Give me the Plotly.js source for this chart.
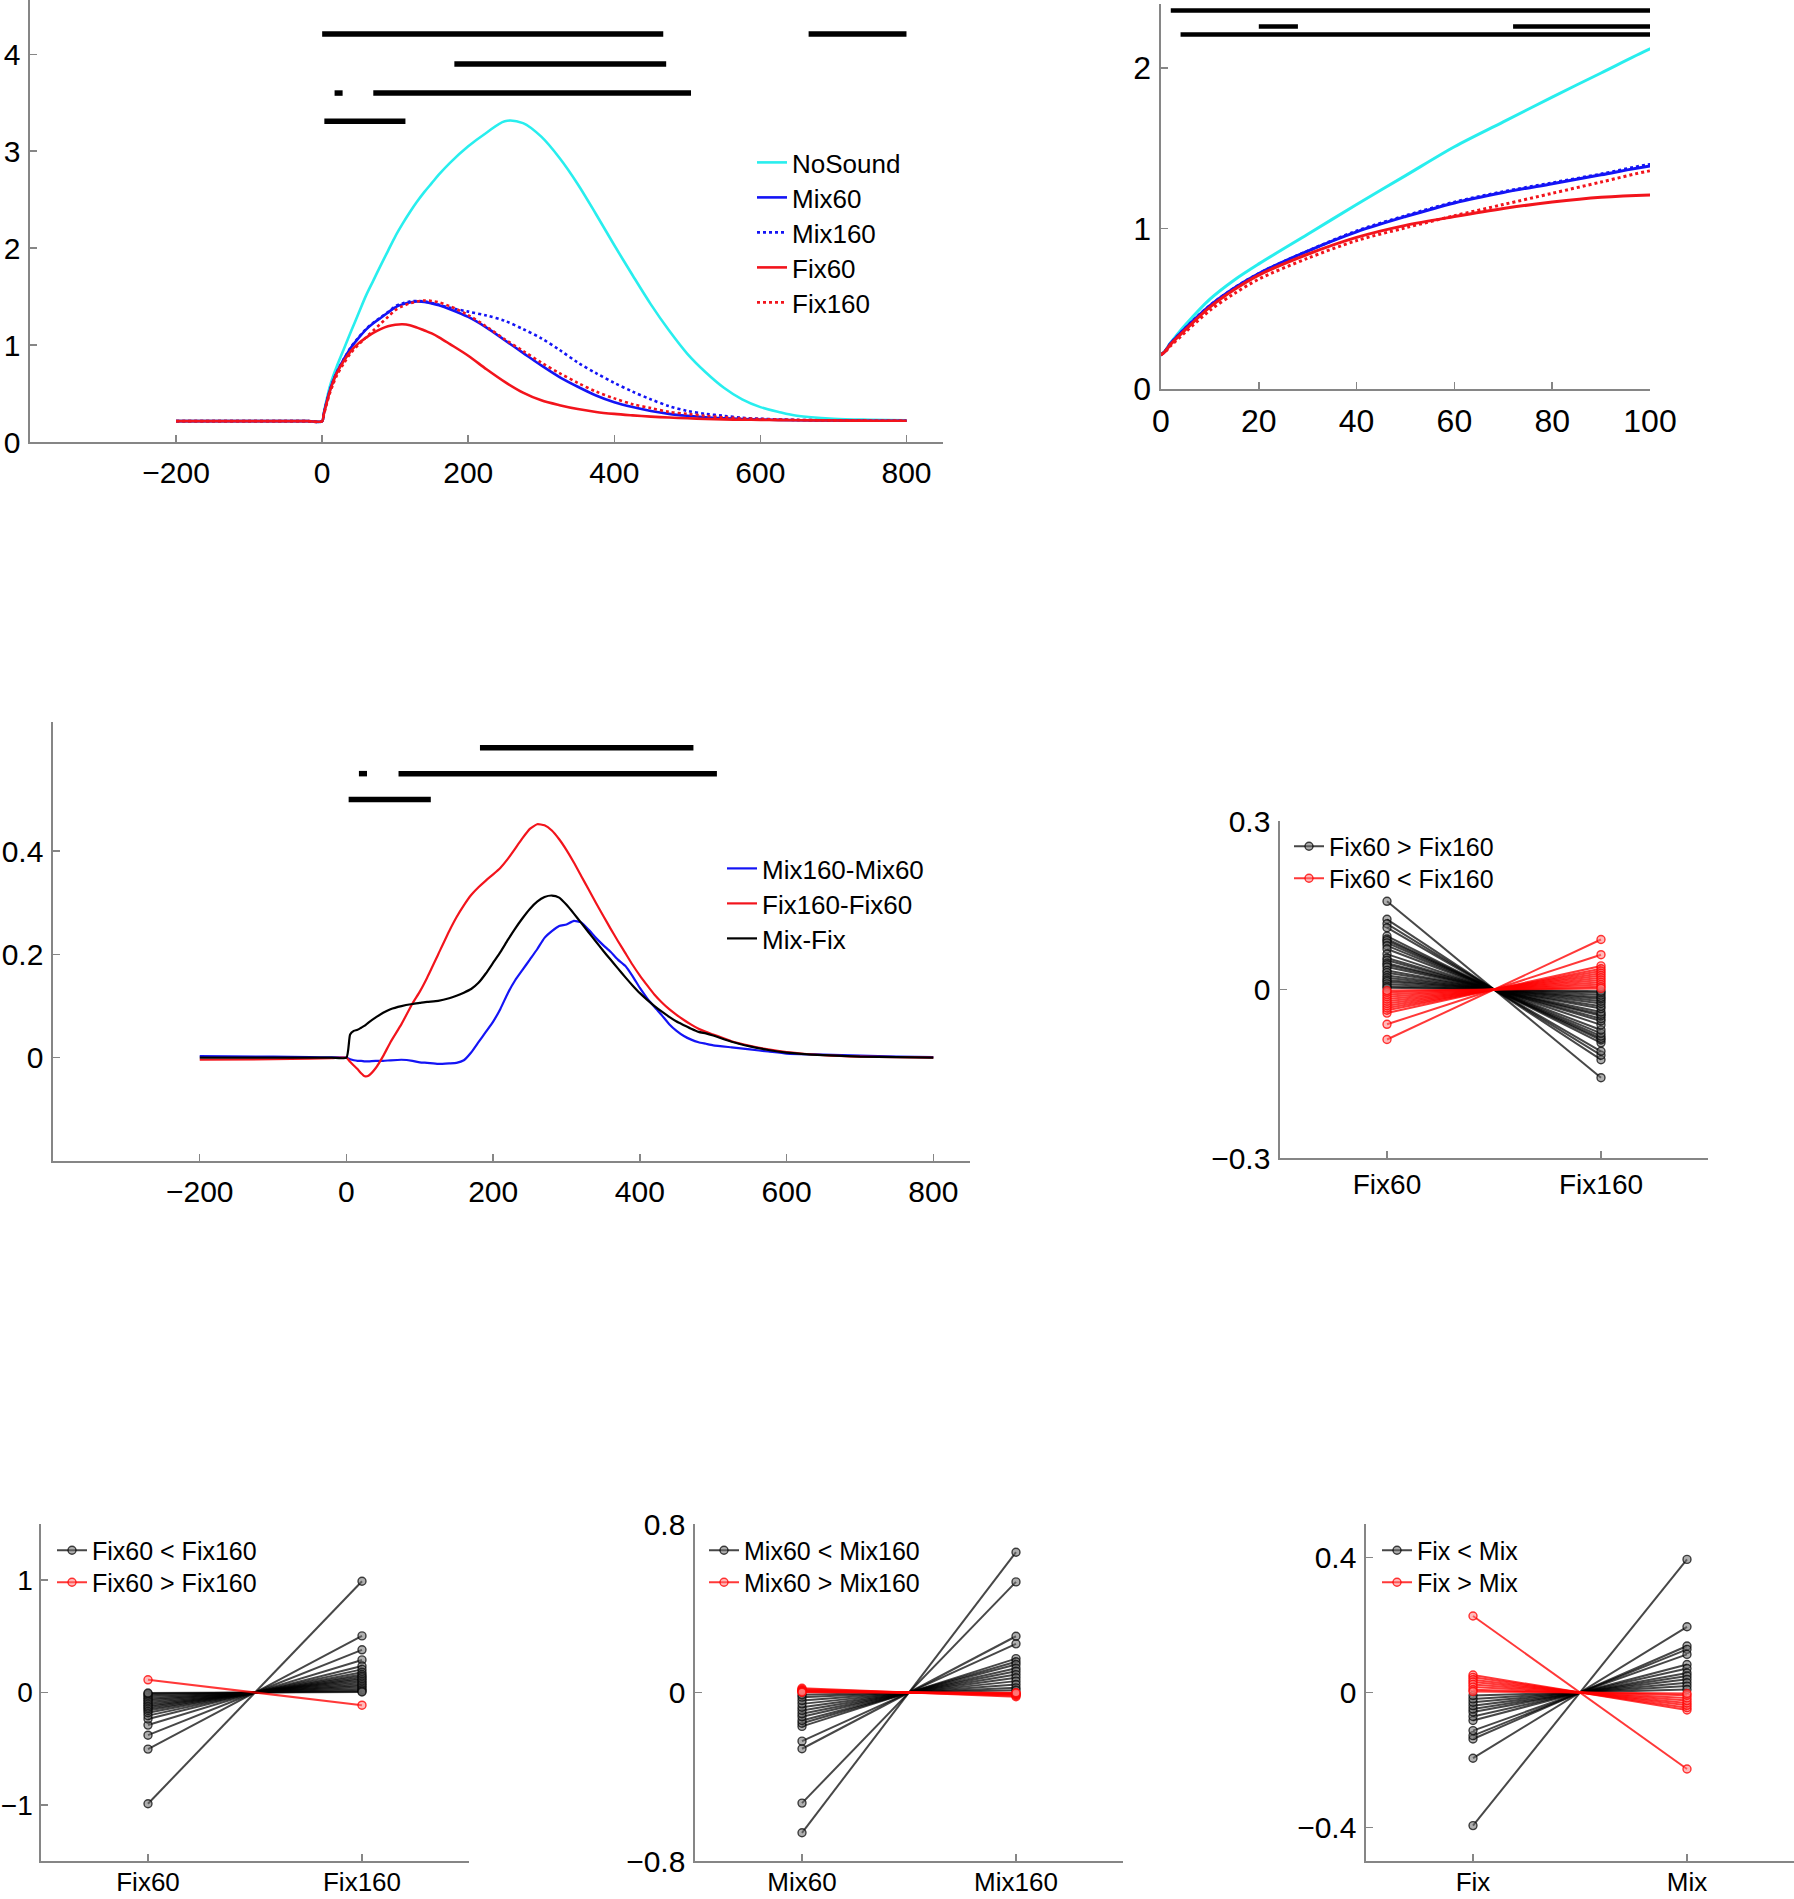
<!DOCTYPE html>
<html><head><meta charset="utf-8">
<script src="https://cdn.plot.ly/plotly-3.0.1.min.js"></script>
<style>html,body{margin:0;padding:0;background:#fff}#chart{width:1794px;height:1899px}</style>
</head><body><div id="chart"></div>
<script>
// ---------- Panel A / B : response curves ----------
const timeA = [-200, -150, -100, -50, -20, 0, 2, 5, 10, 15, 20, 30, 40, 50, 60, 70, 80, 90, 100, 110, 120, 130, 140, 150, 160, 175, 200, 225, 250, 275, 300, 325, 350, 375, 400, 425, 450, 475, 500, 525, 550, 575, 600, 625, 650, 700, 750, 800];
const noSound = [0.215, 0.215, 0.215, 0.215, 0.215, 0.215, 0.29, 0.40, 0.56, 0.68, 0.78, 0.965, 1.15, 1.33,
  1.51, 1.665, 1.82, 1.97, 2.12, 2.25, 2.37, 2.48, 2.58, 2.67,
  2.76, 2.88, 3.05, 3.19, 3.31, 3.29, 3.15, 2.93, 2.66, 2.35,
  2.03, 1.72, 1.42, 1.15, 0.91, 0.72, 0.56, 0.44, 0.36, 0.31,
  0.27, 0.24, 0.23, 0.225];
const mix60 = [0.215, 0.215, 0.215, 0.215, 0.215, 0.215, 0.285, 0.38, 0.52, 0.63, 0.72, 0.86, 0.98, 1.075,
  1.16, 1.225, 1.28, 1.335, 1.39, 1.42, 1.44, 1.45, 1.445, 1.43,
  1.41, 1.37, 1.29, 1.18, 1.05, 0.92, 0.79, 0.67, 0.57, 0.48,
  0.41, 0.36, 0.32, 0.29, 0.27, 0.255, 0.245, 0.237, 0.232, 0.228,
  0.225, 0.222, 0.22, 0.22];
const mix160 = [0.215, 0.215, 0.215, 0.215, 0.215, 0.215, 0.285, 0.38, 0.52, 0.63, 0.72, 0.86, 0.985, 1.08,
  1.165, 1.23, 1.285, 1.34, 1.40, 1.43, 1.45, 1.455, 1.45, 1.435,
  1.415, 1.385, 1.345, 1.305, 1.25, 1.165, 1.07, 0.95, 0.82, 0.71,
  0.61, 0.52, 0.44, 0.37, 0.32, 0.29, 0.27, 0.25, 0.24, 0.232,
  0.228, 0.222, 0.22, 0.22];
const fix60 = [0.215, 0.215, 0.215, 0.215, 0.215, 0.215, 0.28, 0.37, 0.51, 0.62, 0.71, 0.84, 0.945, 1.02,
  1.075, 1.125, 1.165, 1.195, 1.21, 1.215, 1.205, 1.18, 1.15, 1.12,
  1.08, 1.01, 0.89, 0.75, 0.62, 0.51, 0.43, 0.38, 0.34, 0.31,
  0.29, 0.275, 0.262, 0.252, 0.245, 0.238, 0.233, 0.23, 0.228, 0.226,
  0.224, 0.222, 0.22, 0.22];
const fix160 = [0.215, 0.215, 0.215, 0.215, 0.215, 0.215, 0.27, 0.355, 0.49, 0.595, 0.685, 0.815, 0.925, 1.005,
  1.08, 1.15, 1.22, 1.29, 1.36, 1.40, 1.43, 1.45, 1.46, 1.455,
  1.44, 1.40, 1.31, 1.19, 1.06, 0.94, 0.82, 0.71, 0.61, 0.52,
  0.45, 0.39, 0.35, 0.31, 0.29, 0.27, 0.255, 0.245, 0.237, 0.232,
  0.228, 0.223, 0.22, 0.22];
const namesA = ['NoSound', 'Mix60', 'Mix160', 'Fix60', 'Fix160'];

// significance bars
const sigA_start = [0, 666, 181, 17, 70, 3];
const sigA_end   = [467, 800, 471, 28, 505, 114];
const sigA_level = [4.21, 4.21, 3.90, 3.60, 3.60, 3.31];
const sigB_start = [2, 20, 72, 4];
const sigB_end   = [100, 28, 100, 100];
const sigB_level = [2.36, 2.26, 2.26, 2.21];
const sigC_start = [182, 17, 71, 3];
const sigC_end   = [473, 28, 505, 115];
const sigC_level = [0.60, 0.55, 0.55, 0.50];

// ---------- Panel C : difference curves ----------
const timeC = [-200, -100, -50, -20, 0, 5, 10, 15, 20, 25, 30, 40, 50, 60, 75, 90, 100, 110, 125, 140, 150, 160, 170, 180, 190, 200, 210, 220, 230, 240, 250, 260, 270, 280, 290, 300, 310, 320, 330, 340, 350, 360, 370, 380, 390, 400, 410, 420, 430, 440, 450, 460, 470, 480, 490, 500, 525, 550, 575, 600, 650, 700, 750, 800];
const mix160MinusMix60 = [0.003, 0.002, 0.001, 0.0005, 0.000, -0.003, -0.005, -0.006, -0.006, -0.007, -0.007, -0.006,
  -0.006, -0.005, -0.004, -0.006, -0.009, -0.010, -0.012, -0.011, -0.010, -0.005,
  0.010, 0.030, 0.050, 0.070, 0.095, 0.125, 0.150, 0.170, 0.190, 0.210,
  0.232, 0.245, 0.255, 0.258, 0.265, 0.262, 0.248, 0.232, 0.218, 0.205,
  0.190, 0.178, 0.158, 0.135, 0.115, 0.098, 0.082, 0.065, 0.052, 0.042,
  0.035, 0.030, 0.027, 0.024, 0.020, 0.016, 0.012, 0.008, 0.006, 0.004,
  0.002, 0.001];
const fix160MinusFix60 = [-0.004, -0.003, -0.002, -0.001, 0.000, -0.008, -0.015, -0.022, -0.030, -0.036, -0.035, -0.020,
  0.003, 0.030, 0.065, 0.105, 0.128, 0.155, 0.200, 0.245, 0.272, 0.295,
  0.315, 0.330, 0.343, 0.355, 0.368, 0.385, 0.405, 0.425, 0.443, 0.452,
  0.450, 0.440, 0.423, 0.402, 0.378, 0.352, 0.326, 0.300, 0.275, 0.250,
  0.226, 0.203, 0.180, 0.159, 0.140, 0.122, 0.107, 0.094, 0.083, 0.073,
  0.064, 0.056, 0.050, 0.045, 0.032, 0.023, 0.016, 0.011, 0.005, 0.002,
  0.001, 0.000];
const mixMinusFix = [0, 0, 0, 0, 0, 0.045, 0.052, 0.054, 0.058, 0.062, 0.068, 0.078,
  0.087, 0.094, 0.100, 0.104, 0.106, 0.108, 0.110, 0.115, 0.120, 0.126,
  0.133, 0.145, 0.163, 0.184, 0.205, 0.228, 0.250, 0.270, 0.288, 0.302,
  0.311, 0.314, 0.310, 0.296, 0.279, 0.261, 0.243, 0.225, 0.207, 0.190,
  0.173, 0.156, 0.140, 0.125, 0.112, 0.100, 0.089, 0.079, 0.070, 0.063,
  0.056, 0.050, 0.047, 0.043, 0.031, 0.022, 0.015, 0.010, 0.005, 0.002,
  0.001, 0];
const namesC = ['Mix160-Mix60', 'Fix160-Fix60', 'Mix-Fix'];

// ---------- Panel D ----------
const catsD = ['Fix60', 'Fix160'];
const D_black_fix60  = [0.157, 0.125, 0.117, 0.110, 0.095, 0.090, 0.087, 0.083, 0.078, 0.072, 0.063, 0.056, 0.052, 0.047, 0.044, 0.040, 0.034, 0.030, 0.025, 0.021, 0.017, 0.014, 0.010, 0.006, 0.003];
const D_black_fix160 = [-0.157, -0.125, -0.117, -0.110, -0.095, -0.090, -0.087, -0.083, -0.078, -0.072, -0.063, -0.056, -0.052, -0.047, -0.044, -0.040, -0.034, -0.030, -0.025, -0.021, -0.017, -0.014, -0.010, -0.006, -0.003];
const D_red_fix60  = [-0.089, -0.062, -0.042, -0.037, -0.033, -0.029, -0.025, -0.021, -0.017, -0.013, -0.009, -0.005, -0.002];
const D_red_fix160 = [0.089, 0.062, 0.042, 0.037, 0.033, 0.029, 0.025, 0.021, 0.017, 0.013, 0.009, 0.005, 0.002];
const legD = ['Fix60 > Fix160', 'Fix60 < Fix160'];

// ---------- Panel E ----------
const catsE = ['Fix60', 'Fix160'];
const E_black_fix60  = [-0.99, -0.504, -0.38, -0.29, -0.236, -0.206, -0.18, -0.16, -0.145, -0.13, -0.115, -0.10, -0.085, -0.07, -0.055, -0.04, -0.025, -0.012, -0.005];
const E_black_fix160 = [0.99, 0.504, 0.38, 0.29, 0.236, 0.206, 0.18, 0.16, 0.145, 0.13, 0.115, 0.10, 0.085, 0.07, 0.055, 0.04, 0.025, 0.012, 0.005];
const E_red_fix60  = [0.113];
const E_red_fix160 = [-0.113];
const legE = ['Fix60 < Fix160', 'Fix60 > Fix160'];

// ---------- Panel F ----------
const catsF = ['Mix60', 'Mix160'];
const F_black_mix60  = [-0.666, -0.525, -0.267, -0.231, -0.161, -0.146, -0.133, -0.115, -0.101, -0.085, -0.07, -0.054, -0.038, -0.022, -0.011];
const F_black_mix160 = [0.666, 0.525, 0.267, 0.231, 0.161, 0.146, 0.133, 0.115, 0.101, 0.085, 0.07, 0.054, 0.038, 0.022, 0.011];
const F_red_mix60  = [0.020, 0.015, 0.011, 0.008, 0.005, 0.003, 0.001];
const F_red_mix160 = [-0.020, -0.015, -0.011, -0.008, -0.005, -0.003, -0.001];
const legF = ['Mix60 < Mix160', 'Mix60 > Mix160'];

// ---------- Panel G ----------
const catsG = ['Fix', 'Mix'];
const G_black_fix = [-0.395, -0.195, -0.138, -0.128, -0.113, -0.083, -0.071, -0.058, -0.049, -0.039, -0.029, -0.019, -0.009];
const G_black_mix = [0.395, 0.195, 0.138, 0.128, 0.113, 0.083, 0.071, 0.058, 0.049, 0.039, 0.029, 0.019, 0.009];
const G_red_fix = [0.227, 0.052, 0.045, 0.038, 0.031, 0.024, 0.016, 0.008, 0.003];
const G_red_mix = [-0.227, -0.052, -0.045, -0.038, -0.031, -0.024, -0.016, -0.008, -0.003];
const legG = ['Fix < Mix', 'Fix > Mix'];

// ---------- colours ----------
const CYAN = 'rgb(40,238,238)', BLUE = 'rgb(20,20,245)', RED = 'rgb(242,20,28)';

// ---------- builders ----------
const W = 1794, H = 1899;
const xd = (a, b) => [a / W, b / W];
const yd = (top, bot) => [1 - bot / H, 1 - top / H];

const legends = {};
let legCount = 0;
function newLegend(lineStartPx, rowCenterPx, size) {
  legCount++;
  const key = legCount === 1 ? 'legend' : 'legend' + legCount;
  legends[key] = {x: (lineStartPx - 5) / W, y: 1 - rowCenterPx / H, xanchor: 'left', yanchor: 'middle',
    bgcolor: 'rgba(0,0,0,0)', borderwidth: 0, font: {size, color: '#000'}, itemwidth: 30,
    tracegroupgap: 0};
  return key;
}

function sigTrace(s, e, lv, xa, ya, w) {
  const x = [], y = [];
  for (let i = 0; i < s.length; i++) { x.push(s[i], e[i], null); y.push(lv[i], lv[i], null); }
  return {type: 'scatter', mode: 'lines', x, y, xaxis: xa, yaxis: ya, showlegend: false,
    line: {color: '#000', width: w}, hoverinfo: 'skip'};
}
function curve(x, y, name, color, dash, xa, ya, legend, show, w, sm) {
  const t = {type: 'scatter', mode: 'lines', x, y, name, xaxis: xa, yaxis: ya,
    showlegend: show, line: {color, width: w, dash, shape: 'spline', smoothing: sm}, hoverinfo: 'skip'};
  if (legend) t.legend = legend;
  return t;
}
function pairTrace(a, b, cats, name, lineCol, fillCol, xa, ya, legend) {
  const x = [], y = [];
  for (let i = 0; i < a.length; i++) { x.push(cats[0], cats[1], null); y.push(a[i], b[i], null); }
  return {type: 'scatter', mode: 'lines+markers', x, y, name, xaxis: xa, yaxis: ya, legend,
    line: {color: lineCol, width: 2},
    marker: {symbol: 'circle', size: 8, color: fillCol, line: {color: lineCol, width: 1.4}},
    hoverinfo: 'skip'};
}

const BLK = 'rgba(0,0,0,0.72)', BLKF = 'rgba(110,110,110,0.55)';
const RD = 'rgba(255,0,0,0.78)', RDF = 'rgba(255,120,120,0.5)';

const data = [];
// A
const seriesA = [noSound, mix60, mix160, fix60, fix160];
const colA = [CYAN, BLUE, BLUE, RED, RED];
const dashA = ['solid', 'solid', 'dot', 'solid', 'dot'];
const rowsA = [162.5, 197.5, 232.5, 267.5, 302.5];
for (let i = 0; i < 5; i++) data.push(curve(timeA, seriesA[i], namesA[i], colA[i], dashA[i], 'x', 'y', newLegend(757, rowsA[i], 26), true, 2.6, 0.9));
data.push(sigTrace(sigA_start, sigA_end, sigA_level, 'x', 'y', 5.5));
// B
for (let i = 0; i < 5; i++) data.push(curve(timeA, seriesA[i], namesA[i], colA[i], dashA[i], 'x2', 'y2', null, false, 3, 0.9));
data.push(sigTrace(sigB_start, sigB_end, sigB_level, 'x2', 'y2', 4.5));
// C
const seriesC = [mix160MinusMix60, fix160MinusFix60, mixMinusFix];
const colC = [BLUE, RED, '#000'];
const rowsC = [868.5, 903.5, 938.5];
for (let i = 0; i < 3; i++) data.push(curve(timeC, seriesC[i], namesC[i], colC[i], 'solid', 'x3', 'y3', newLegend(727, rowsC[i], 26), true, 2.2, 0.5));
data.push(sigTrace(sigC_start, sigC_end, sigC_level, 'x3', 'y3', 5.5));
// D
data.push(pairTrace(D_black_fix60, D_black_fix160, catsD, legD[0], BLK, BLKF, 'x4', 'y4', newLegend(1294, 846.5, 25)));
data.push(pairTrace(D_red_fix60, D_red_fix160, catsD, legD[1], RD, RDF, 'x4', 'y4', newLegend(1294, 878.5, 25)));
// E
data.push(pairTrace(E_black_fix60, E_black_fix160, catsE, legE[0], BLK, BLKF, 'x5', 'y5', newLegend(57, 1550.5, 25)));
data.push(pairTrace(E_red_fix60, E_red_fix160, catsE, legE[1], RD, RDF, 'x5', 'y5', newLegend(57, 1582.5, 25)));
// F
data.push(pairTrace(F_black_mix60, F_black_mix160, catsF, legF[0], BLK, BLKF, 'x6', 'y6', newLegend(709, 1550.5, 25)));
data.push(pairTrace(F_red_mix60, F_red_mix160, catsF, legF[1], RD, RDF, 'x6', 'y6', newLegend(709, 1582.5, 25)));
// G
data.push(pairTrace(G_black_fix, G_black_mix, catsG, legG[0], BLK, BLKF, 'x7', 'y7', newLegend(1382, 1550.5, 25)));
data.push(pairTrace(G_red_fix, G_red_mix, catsG, legG[1], RD, RDF, 'x7', 'y7', newLegend(1382, 1582.5, 25)));

const base = {showline: true, linecolor: '#868686', linewidth: 1.6, ticks: 'inside', ticklen: 7,
  tickwidth: 1.5, tickcolor: '#868686', showgrid: false, zeroline: false, fixedrange: true,
  tickfont: {size: 30, color: '#000'}, ticklabelstandoff: 2};
const ax = (o) => Object.assign({}, base, o);

const layout = Object.assign({
  width: W, height: H, margin: {l: 0, r: 0, t: 0, b: 0},
  paper_bgcolor: '#fff', plot_bgcolor: 'rgba(0,0,0,0)',
  font: {family: 'Liberation Sans, Arial, Helvetica, sans-serif', size: 26, color: '#000'},
  showlegend: true,
  xaxis:  ax({domain: xd(30, 943), range: [-400, 850], tickvals: [-200, 0, 200, 400, 600, 800], anchor: 'y', ticklabelstandoff: 3}),
  yaxis:  ax({domain: yd(0, 442), range: [0, 4.56], tickvals: [0, 1, 2, 3, 4], anchor: 'x'}),
  xaxis2: ax({domain: xd(1161, 1650), range: [0, 100], tickvals: [0, 20, 40, 60, 80, 100], anchor: 'y2', tickfont: {size: 32}, ticklabelstandoff: 3}),
  yaxis2: ax({domain: yd(4, 389), range: [0, 2.4], tickvals: [0, 1, 2], anchor: 'x2', tickfont: {size: 32}}),
  xaxis3: ax({domain: xd(53, 970), range: [-400, 850], tickvals: [-200, 0, 200, 400, 600, 800], anchor: 'y3', ticklabelstandoff: 3}),
  yaxis3: ax({domain: yd(722, 1161), range: [-0.2, 0.65], tickvals: [0, 0.2, 0.4], anchor: 'x3'}),
  xaxis4: ax({domain: xd(1280, 1708), type: 'category', range: [-0.5, 1.5], anchor: 'y4', tickfont: {size: 28}, ticklabelstandoff: 1}),
  yaxis4: ax({domain: yd(821, 1158), range: [-0.3, 0.3], tickvals: [-0.3, 0, 0.3], anchor: 'x4'}),
  xaxis5: ax({domain: xd(41, 469), type: 'category', range: [-0.5, 1.5], anchor: 'y5', tickfont: {size: 26}, ticklabelstandoff: -3}),
  yaxis5: ax({domain: yd(1524, 1861), range: [-1.5, 1.5], tickvals: [-1, 0, 1], anchor: 'x5', tickfont: {size: 28}, ticklabelstandoff: 1}),
  xaxis6: ax({domain: xd(695, 1123), type: 'category', range: [-0.5, 1.5], anchor: 'y6', tickfont: {size: 26}, ticklabelstandoff: -3}),
  yaxis6: ax({domain: yd(1524, 1861), range: [-0.8, 0.8], tickvals: [-0.8, 0, 0.8], anchor: 'x6'}),
  xaxis7: ax({domain: xd(1366, 1794), type: 'category', range: [-0.5, 1.5], anchor: 'y7', tickfont: {size: 26}, ticklabelstandoff: -3}),
  yaxis7: ax({domain: yd(1524, 1861), range: [-0.5, 0.5], tickvals: [-0.4, 0, 0.4], anchor: 'x7'})
}, legends);

Plotly.newPlot('chart', data, layout, {staticPlot: true, displayModeBar: false});
</script></body></html>
